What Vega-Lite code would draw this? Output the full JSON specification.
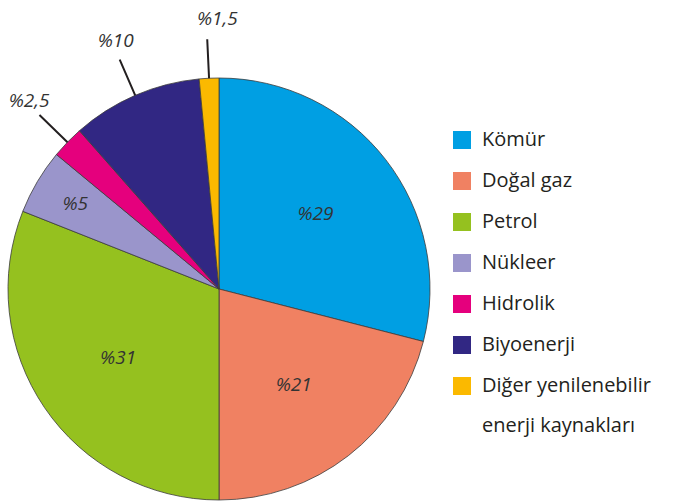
{
  "$schema": "https://vega.github.io/schema/vega-lite/v6.json",
  "autosize": "none",
  "width": 438,
  "height": 426,
  "padding": {"left": 0, "top": 76, "right": 238, "bottom": 0},
  "background": "white",
  "config": {"view": {"stroke": null}, "style": {"guide-label": {"lineHeight": 40}}},
  "data": {
    "values": [
      {"kaynak": "Kömür", "pct": 29, "label": "%29", "sira": 1},
      {"kaynak": "Doğal gaz", "pct": 21, "label": "%21", "sira": 2},
      {"kaynak": "Petrol", "pct": 31, "label": "%31", "sira": 3},
      {"kaynak": "Nükleer", "pct": 5, "label": "%5", "sira": 4},
      {"kaynak": "Hidrolik", "pct": 2.5, "label": "%2,5", "sira": 5},
      {"kaynak": "Biyoenerji", "pct": 10, "label": "%10", "sira": 6},
      {"kaynak": "Diğer yenilenebilir enerji kaynakları", "pct": 1.5, "label": "%1,5", "sira": 7}
    ]
  },
  "encoding": {
    "theta": {"field": "pct", "type": "quantitative", "stack": true},
    "order": {"field": "sira", "type": "quantitative"}
  },
  "layer": [
    {
      "mark": {"type": "arc", "radius": 211, "stroke": "#3c3c3c", "strokeWidth": 0.8},
      "encoding": {
        "color": {
          "field": "kaynak",
          "type": "nominal",
          "scale": {
            "domain": ["Kömür", "Doğal gaz", "Petrol", "Nükleer", "Hidrolik", "Biyoenerji", "Diğer yenilenebilir enerji kaynakları"],
            "range": ["#009fe3", "#f08162", "#95c11f", "#9a95cb", "#e5007d", "#312783", "#fbb900"]
          },
          "legend": {
            "orient": "none",
            "legendX": 452,
            "legendY": 54,
            "title": null,
            "padding": 0,
            "symbolType": "square",
            "symbolSize": 324,
            "symbolStrokeWidth": 0,
            "symbolOpacity": 1,
            "labelFont": "Open Sans",
            "labelFontSize": 20,
            "labelColor": "#231f20",
            "labelOffset": 10,
            "labelLimit": 300,
            "rowPadding": 21,
            "labelExpr": "datum.label == 'Diğer yenilenebilir enerji kaynakları' ? ['Diğer yenilenebilir', 'enerji kaynakları'] : datum.label",
            "encode": {
              "labels": {
                "enter": {"lineHeight": {"value": 40}},
                "update": {
                  "lineHeight": {"value": 40},
                  "dy": {"signal": "datum.label == 'Diğer yenilenebilir enerji kaynakları' ? 20 : 0"}
                }
              }
            }
          }
        }
      }
    },
    {
      "mark": {"type": "arc", "radius": 250, "radius2": 211, "padAngle": 1.0, "fill": null, "stroke": "#231f20", "strokeWidth": 2},
      "encoding": {
        "strokeOpacity": {
          "condition": {"test": "datum.pct <= 2.5 || datum.kaynak == 'Biyoenerji'", "value": 1},
          "value": 0
        }
      }
    },
    {
      "mark": {"type": "text", "radius": 122, "font": "Open Sans", "fontSize": 19, "fontStyle": "italic", "fill": "#333333"},
      "encoding": {
        "text": {"condition": {"test": "datum.pct >= 20", "field": "label"}, "value": ""}
      }
    },
    {
      "mark": {"type": "text", "radius": 167, "font": "Open Sans", "fontSize": 19, "fontStyle": "italic", "fill": "#333333"},
      "encoding": {
        "text": {"condition": {"test": "datum.kaynak == 'Nükleer'", "field": "label"}, "value": ""}
      }
    },
    {
      "mark": {"type": "text", "radius": 270, "dx": 4, "font": "Open Sans", "fontSize": 19, "fontStyle": "italic", "fill": "#333333"},
      "encoding": {
        "text": {"condition": {"test": "datum.kaynak == 'Hidrolik' || datum.kaynak == 'Biyoenerji'", "field": "label"}, "value": ""}
      }
    },
    {
      "mark": {"type": "text", "radius": 270, "dx": 11, "font": "Open Sans", "fontSize": 19, "fontStyle": "italic", "fill": "#333333"},
      "encoding": {
        "text": {"condition": {"test": "datum.sira == 7", "field": "label"}, "value": ""}
      }
    }
  ]
}
